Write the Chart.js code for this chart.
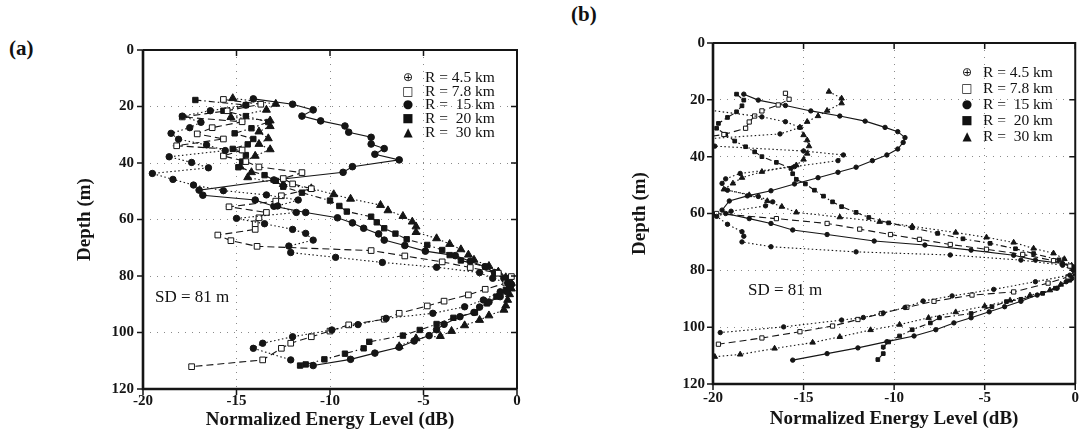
<!DOCTYPE html>
<html><head><meta charset="utf-8">
<script src="https://cdn.jsdelivr.net/npm/chart.js@4.4.1/dist/chart.umd.min.js"></script>
<style>
html,body{margin:0;padding:0;background:#fff;}
body{width:1084px;height:435px;position:relative;overflow:hidden;font-family:"Liberation Serif","Times New Roman",serif;color:#111;}
canvas{position:absolute;top:0;}
.t{position:absolute;white-space:pre;line-height:1;}
.panel{font-weight:bold;font-size:21px;}
.sd{font-size:17px;}
.leg{font-size:15.5px;}
.sym{position:absolute;font-family:"DejaVu Sans",sans-serif;font-size:12px;line-height:1;transform:translate(-50%,-50%);}
</style></head><body>
<canvas id="ca" width="480" height="435" style="left:60px;width:480px;height:435px"></canvas>
<canvas id="cb" width="474" height="435" style="left:610px;width:474px;height:435px"></canvas>
<div class="t panel" style="left:9px;top:38px">(a)</div>
<div class="t panel" style="left:571px;top:4px">(b)</div>
<div class="t sd" style="left:155px;top:288px">SD = 81 m</div>
<div class="t sd" style="left:748px;top:281px">SD = 81 m</div>
<div id="legs"></div>
<script>
// ---------- data ----------
const SERIES_NAMES = ['R = 4.5 km','R = 7.8 km','R =  15 km','R =  20 km','R =  30 km'];
const LEGEND_SYMBOLS = ['\u2295','\u25A1','\u25CF','\u25A0','\u25B2'];
const X_TICKS = [-20,-15,-10,-5,0];
const Y_TICKS = [0,20,40,60,80,100,120];
const X_TITLE = 'Normalized Energy Level (dB)';
const Y_TITLE = 'Depth (m)';

// Panel (a)
const A_R45_depth = [19.5,21.5,23.4,25.6,27.5,29.5,31.6,33.6,35.6,37.8,39.8,41.7,43.7,45.8,47.8,49.8,51.3,53.1,55.2,57.5,59.6,61.5,63.5,64.9,67.3,69.4,71.7,73.4,75.2,76.9,78.8,80.8,82.5,84.0,85.6,88.5,90.9,93.2,95.0,97.2,99.1,101.5,103.8,105.6,109.7];
const A_R45_level = [-14.5,-16.4,-17.9,-16.9,-17.5,-18.5,-18.1,-16.6,-15.6,-18.6,-17.4,-16.5,-19.5,-18.4,-17.3,-15.7,-13.4,-11.7,-12.8,-11.8,-15.0,-13.5,-12.0,-11.3,-10.9,-12.2,-12.1,-9.7,-7.2,-4.3,-2.0,-1.3,-0.5,-0.4,-0.9,-1.8,-2.8,-4.5,-7.0,-8.5,-9.9,-12.0,-13.6,-14.1,-12.1];
const A_R78_depth = [17.5,19.2,21.5,23.7,25.4,27.5,29.7,31.5,33.9,35.4,37.5,39.5,41.4,43.4,45.5,47.4,49.1,51.6,53.5,55.5,57.5,59.4,61.5,63.5,65.5,67.5,69.5,71.0,72.9,75.0,77.0,79.0,80.2,82.5,84.7,86.7,88.9,90.6,93.2,95.3,97.3,99.5,101.5,103.8,105.6,109.7,112.1];
const A_R78_level = [-15.7,-13.7,-15.5,-17.9,-14.7,-16.3,-17.1,-15.7,-18.2,-14.7,-15.7,-14.5,-13.8,-11.5,-12.5,-12.0,-11.0,-12.6,-12.9,-15.4,-13.4,-13.8,-14.0,-14.0,-16.0,-15.3,-13.9,-7.8,-6.0,-4.0,-2.5,-1.0,-0.3,-0.6,-1.7,-2.6,-3.9,-4.8,-6.3,-7.1,-9.0,-10.0,-11.0,-12.1,-12.6,-13.6,-17.4];
const A_R15_depth = [17.3,19.2,21.2,23.4,25.1,26.9,29.1,30.9,33.3,34.9,36.9,38.9,41.3,43.3,46.0,49.6,51.4,53.1,55.3,57.5,59.4,61.2,63.1,65.1,67.3,69.2,71.2,72.8,74.8,76.7,78.8,80.8,83.0,85.5,87.3,89.2,91.0,92.9,94.4,97.1,99.0,101.1,103.0,105.2,107.3,109.5,111.7];
const A_R15_level = [-14.1,-12.0,-10.9,-11.5,-10.5,-9.2,-9.0,-7.8,-7.8,-7.1,-7.6,-6.3,-8.8,-9.3,-13.0,-17.0,-16.8,-14.0,-13.0,-11.3,-9.6,-8.8,-8.2,-7.4,-7.1,-6.0,-4.9,-3.3,-2.5,-1.7,-1.2,-0.7,-0.3,-0.55,-0.9,-1.5,-2.0,-2.3,-3.05,-3.9,-4.3,-4.7,-5.5,-6.3,-7.6,-8.9,-10.9];
const A_R20_depth = [17.7,19.5,21.5,23.4,25.5,27.7,29.5,31.5,33.4,35.0,37.2,39.5,41.5,44.3,46.3,48.4,50.5,53.3,55.2,57.2,59.0,61.0,63.1,65.0,67.0,69.0,70.8,72.6,74.5,76.7,79.0,81.2,83.0,85.0,87.3,89.7,92.9,94.8,97.0,99.1,101.1,103.3,105.6,107.5,109.5,111.3,111.7];
const A_R20_level = [-17.2,-14.5,-15.7,-14.5,-13.3,-14.2,-15.1,-14.1,-14.4,-15.2,-14.5,-14.7,-14.9,-13.5,-12.9,-12.5,-11.5,-10.0,-9.5,-9.1,-7.8,-7.5,-7.1,-6.5,-5.9,-4.8,-4.0,-3.6,-3.0,-1.7,-1.2,-0.6,-0.4,-0.6,-1.1,-1.6,-2.25,-3.4,-4.3,-5.2,-6.1,-7.9,-8.2,-9.2,-10.3,-11.3,-11.6];
const A_R30_depth = [17.1,19.1,21.2,23.8,25.0,27.0,28.9,31.3,33.3,35.2,37.5,39.5,41.3,43.3,45.1,47.5,49.0,51.1,52.7,54.9,56.8,58.8,60.8,62.5,64.5,66.7,68.7,70.6,72.5,74.3,76.5,78.5,80.5,82.5,84.5,86.5,88.5,90.5,92.0,94.0,95.6,97.5,99.5,101.3,102.1,104.9];
const A_R30_level = [-15.2,-12.9,-13.4,-15.3,-13.2,-13.2,-13.8,-13.3,-13.8,-13.2,-14.0,-14.6,-14.8,-14.2,-14.4,-12.5,-11.0,-9.8,-8.9,-7.3,-6.9,-6.1,-5.6,-5.4,-5.4,-4.3,-3.6,-3.0,-2.6,-2.3,-1.5,-1.0,-0.6,-0.3,-0.3,-0.4,-0.5,-0.6,-0.7,-1.5,-2.0,-2.8,-3.5,-4.1,-5.4,-6.3];

// Panel (b)
const B_R45_depth = [23.0,26.0,27.7,29.7,32.0,34.0,36.3,38.0,39.4,41.4,43.5,45.9,47.8,49.4,51.8,54.0,55.9,57.3,59.2,61.0,63.8,66.4,68.0,70.0,71.7,73.5,74.6,76.4,78.2,80.0,81.7,84.0,86.7,89.0,90.8,93.1,95.0,96.6,97.5,99.9,101.9];
const B_R45_level = [-21.0,-17.3,-16.0,-15.2,-16.3,-21.0,-19.9,-15.0,-12.8,-13.1,-15.5,-18.5,-19.3,-19.5,-19.2,-17.5,-16.7,-17.1,-19.0,-19.8,-19.2,-18.4,-18.3,-18.4,-16.8,-12.1,-6.9,-3.0,-0.7,-0.1,-0.3,-2.2,-4.5,-6.8,-8.4,-9.4,-10.6,-11.7,-12.9,-16.1,-19.6];
const B_R78_depth = [17.7,19.8,21.8,23.9,25.7,27.8,30.0,32.2,34.0,58.0,60.0,61.8,63.5,65.5,67.4,69.1,70.9,72.6,74.4,76.6,78.5,80.5,82.3,84.5,87.6,88.7,90.9,93.0,95.2,97.3,99.6,101.6,103.8,106.0];
const B_R78_level = [-16.0,-15.8,-16.4,-17.3,-17.7,-18.0,-18.2,-19.4,-21.5,-21.5,-19.8,-16.5,-13.7,-11.9,-10.2,-8.6,-6.9,-4.9,-2.9,-1.2,-0.3,0.0,-0.4,-1.5,-3.4,-5.7,-7.8,-9.3,-10.7,-12.0,-13.4,-15.2,-17.3,-19.7];
const B_R15_depth = [18.0,20.1,22.0,23.9,25.7,27.5,29.7,31.2,33.3,35.0,37.3,39.4,41.4,43.7,45.5,47.4,49.6,52.0,53.8,55.6,58.8,60.0,61.8,63.5,65.8,67.4,69.7,71.1,72.9,74.7,76.4,77.6,78.8,81.0,82.9,84.0,86.3,88.7,90.9,92.8,94.6,96.7,98.5,100.9,103.1,105.1,107.3,109.3,111.6];
const B_R15_level = [-18.3,-17.5,-16.0,-14.6,-13.0,-11.6,-10.5,-9.8,-9.4,-9.5,-9.8,-10.4,-11.2,-12.1,-13.1,-14.2,-15.5,-16.8,-18.1,-19.1,-19.5,-19.3,-18.0,-16.8,-15.6,-13.7,-11.1,-8.3,-5.75,-3.4,-2.2,-0.7,-0.1,0.0,-0.2,-0.5,-1.0,-2.1,-3.0,-3.9,-4.75,-5.75,-6.7,-7.7,-8.9,-10.4,-12.0,-13.7,-15.6];
const B_R20_depth = [18.0,20.1,22.1,24.2,26.2,28.3,30.0,32.2,34.5,36.5,38.3,40.0,42.0,44.1,46.0,48.0,49.6,51.8,53.9,55.9,57.6,59.6,61.4,63.3,65.0,67.0,68.9,70.5,72.4,74.1,76.3,78.8,80.5,83.5,86.3,88.1,90.2,91.0,92.8,95.2,96.7,98.5,100.9,103.1,105.2,107.0,109.3,111.4];
const B_R20_level = [-18.7,-18.3,-18.4,-18.7,-19.2,-19.7,-19.8,-19.3,-18.8,-18.2,-17.7,-17.3,-16.5,-15.7,-15.6,-15.4,-14.9,-14.4,-13.9,-13.4,-12.9,-12.1,-11.4,-10.3,-9.0,-7.6,-6.2,-4.7,-3.3,-2.3,-0.9,-0.2,0.0,-0.3,-1.1,-1.8,-3.0,-3.8,-4.6,-5.75,-7.5,-8.0,-9.0,-9.7,-10.3,-10.6,-10.6,-10.9];
const B_R30_depth = [17.1,19.5,21.2,23.8,25.7,27.7,29.7,32.4,34.2,36.3,38.9,41.0,43.0,45.3,47.4,49.4,51.5,53.5,55.6,57.6,59.6,61.3,62.9,64.5,66.7,68.4,70.2,72.3,74.0,76.0,78.3,80.5,82.5,85.0,87.0,88.8,90.6,92.6,94.7,96.7,99.1,101.0,103.4,105.4,107.5,109.6,110.4];
const B_R30_level = [-13.6,-12.9,-12.9,-13.7,-14.2,-14.8,-15.2,-15.0,-14.8,-14.7,-14.8,-15.0,-15.4,-17.3,-18.4,-18.9,-19.4,-18.0,-17.0,-16.2,-15.4,-13.0,-10.8,-9.0,-6.6,-4.9,-3.4,-2.3,-1.2,-0.6,-0.2,0.0,-0.3,-0.8,-1.4,-2.5,-3.6,-5.0,-6.6,-8.1,-9.7,-11.3,-13.0,-14.5,-16.6,-18.5,-19.9];

// ---------- styling ----------
const INK = '#151515';
const LINE_DASH = [[1.5,2.5],[7,4],[],[6,3,1.5,3],[1.5,2.5]];
const POINT_STYLE = ['circle','rect','circle','rect','triangle'];
const POINT_FILL = [INK,'#fff',INK,INK,INK];
const RADIUS_A = [3.2,4,3.3,3.8,4.6];
const RADIUS_B = [2.2,3,2.2,2.6,3.2];

function pairs(depth, level){ return depth.map((d,i)=>({x:level[i], y:d})); }

function makeDatasets(seriesList, radii){
  return seriesList.map((s,k)=>({
    label: SERIES_NAMES[k],
    data: pairs(s[0], s[1]),
    showLine: true,
    borderColor: INK,
    borderWidth: 1.1,
    borderDash: LINE_DASH[k],
    pointStyle: POINT_STYLE[k],
    pointRadius: radii[k],
    pointBorderWidth: 1,
    pointBorderColor: INK,
    pointBackgroundColor: POINT_FILL[k],
    tension: 0,
    fill: false
  }));
}

const framePlugin = {
  id: 'frame',
  afterDraw(chart){
    const {ctx, chartArea:a, scales:{x,y}} = chart;
    ctx.save();
    ctx.strokeStyle = INK;
    ctx.setLineDash([]);
    ctx.lineWidth = 2.6;
    ctx.beginPath();
    ctx.moveTo(a.left, a.top); ctx.lineTo(a.left, a.bottom); ctx.lineTo(a.right, a.bottom);
    ctx.stroke();
    ctx.lineWidth = 2;
    ctx.beginPath();
    ctx.moveTo(a.left, a.top); ctx.lineTo(a.right, a.top); ctx.lineTo(a.right, a.bottom);
    ctx.stroke();
    ctx.lineWidth = 1.5;
    ctx.beginPath();
    x.ticks.forEach(t=>{
      const p = x.getPixelForValue(t.value);
      ctx.moveTo(p, a.bottom); ctx.lineTo(p, a.bottom+6);
      ctx.moveTo(p, a.top); ctx.lineTo(p, a.top+6);
    });
    y.ticks.forEach(t=>{
      const p = y.getPixelForValue(t.value);
      ctx.moveTo(a.left-6, p); ctx.lineTo(a.left, p);
      ctx.moveTo(a.right, p); ctx.lineTo(a.right-6, p);
    });
    ctx.stroke();
    ctx.restore();
  }
};

const tickFont = {family:'"Liberation Serif", serif', size:15, weight:'bold'};
const titleFont = {family:'"Liberation Serif", serif', size:19, weight:'bold'};

function makeOptions(c){
  const gridColor = ctx => (ctx.tick && (ctx.tick.value === -20 || ctx.tick.value === 0 || ctx.tick.value === 120)) ? 'rgba(0,0,0,0)' : '#8a8a8a';
  return {
    responsive:false, animation:false, devicePixelRatio:1,
    layout:{padding:{left:0, top:c.top, right:c.right, bottom:0}},
    plugins:{legend:{display:false}, tooltip:{enabled:false}},
    scales:{
      x:{type:'linear', min:-20, max:0,
         afterBuildTicks: s => { s.ticks = X_TICKS.map(v=>({value:v})); },
         ticks:{font:tickFont, color:INK, padding:c.xpad, maxRotation:0, callback:v=>String(v)},
         grid:{drawTicks:false, color:gridColor, lineWidth:1},
         border:{display:false, dash:[1,6]},
         title:{display:true, text:X_TITLE, font:titleFont, color:INK, padding:{top:0, bottom:c.xtb}},
         afterFit: s => { s.height = c.xh; }},
      y:{type:'linear', min:0, max:120, reverse:true,
         afterBuildTicks: s => { s.ticks = Y_TICKS.map(v=>({value:v})); },
         ticks:{font:tickFont, color:INK, padding:c.ypad, callback:v=>String(v)},
         grid:{drawTicks:false, color:gridColor, lineWidth:1},
         border:{display:false, dash:[1,6]},
         title:{display:true, text:Y_TITLE, font:titleFont, color:INK, padding:{top:c.ytt, bottom:0}},
         afterFit: s => { s.width = c.yw; }}
    }
  };
}

new Chart(document.getElementById('ca'), {
  type:'scatter',
  data:{datasets: makeDatasets([
    [A_R45_depth, A_R45_level],[A_R78_depth, A_R78_level],[A_R15_depth, A_R15_level],
    [A_R20_depth, A_R20_level],[A_R30_depth, A_R30_level]], RADIUS_A)},
  options: makeOptions({top:50, right:23, xh:46, yw:83, xpad:3, ypad:9, xtb:4, ytt:14}),
  plugins:[framePlugin]
});

new Chart(document.getElementById('cb'), {
  type:'scatter',
  data:{datasets: makeDatasets([
    [B_R45_depth, B_R45_level],[B_R78_depth, B_R78_level],[B_R15_depth, B_R15_level],
    [B_R20_depth, B_R20_level],[B_R30_depth, B_R30_level]], RADIUS_B)},
  options: makeOptions({top:43, right:1, xh:51, yw:103, xpad:5, ypad:8, xtb:5, ytt:19}),
  plugins:[framePlugin]
});

// ---------- legends (HTML text) ----------
const legs = document.getElementById('legs');
function addLegend(symX, textX, rows){
  SERIES_NAMES.forEach((name,i)=>{
    const s = document.createElement('div');
    s.className = 'sym';
    s.style.left = symX + 'px';
    s.style.top = rows[i] + 'px';
    s.textContent = LEGEND_SYMBOLS[i];
    legs.appendChild(s);
    const t = document.createElement('div');
    t.className = 't leg';
    t.style.left = textX + 'px';
    t.style.top = (rows[i] - 8) + 'px';
    t.textContent = name;
    legs.appendChild(t);
  });
}
addLegend(408, 425, [77,91,104,118,132]);
addLegend(967, 983, [72,88,104,120,136]);
</script>
</body></html>
